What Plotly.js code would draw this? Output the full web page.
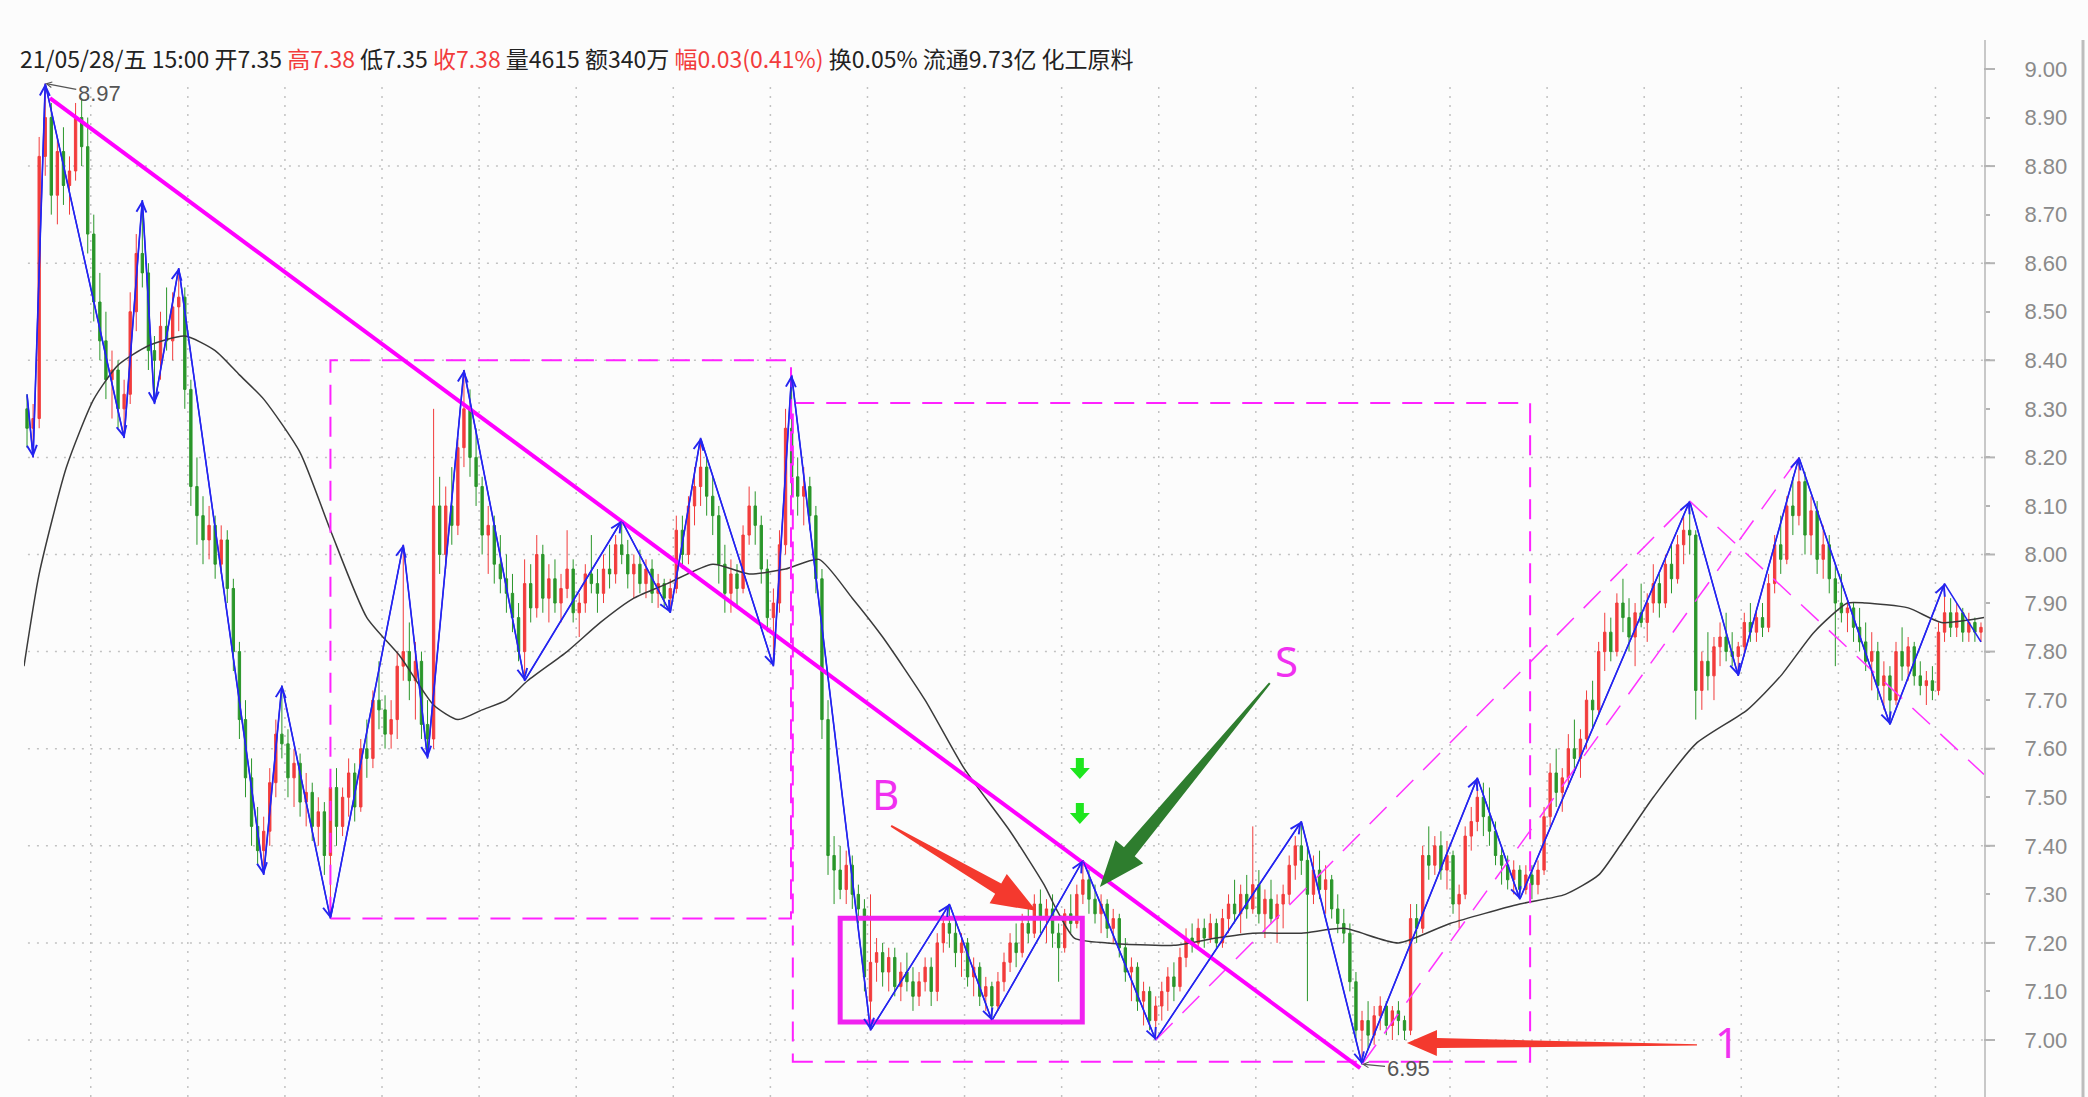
<!DOCTYPE html>
<html><head><meta charset="utf-8">
<script src="https://cdn.plot.ly/plotly-3.0.1.min.js"></script>
<style>html,body{margin:0;padding:0;background:#fcfcfc;} #chart{width:2088px;height:1097px;}</style>
</head><body><div id="chart"></div>
<script>
// ---------- candle data (15-min bars) ----------
const openP = [
8.30,8.26,8.28,8.82,8.90,8.74,8.83,8.76,8.79,8.90,
8.84,8.66,8.52,8.44,8.36,8.38,8.30,8.33,8.50,8.62,
8.58,8.42,8.40,8.47,8.44,8.51,8.53,8.34,8.14,8.08,
8.03,8.06,7.98,8.03,7.93,7.80,7.66,7.54,7.44,7.39,
7.43,7.53,7.63,7.61,7.54,7.57,7.49,7.51,7.44,7.47,
7.38,7.52,7.44,7.50,7.55,7.48,7.60,7.58,7.70,7.68,
7.63,7.66,7.77,7.80,7.74,7.78,7.65,7.62,8.10,8.00,
8.10,8.06,8.22,8.30,8.20,8.14,8.04,8.06,7.98,7.95,
7.92,7.87,7.80,7.94,7.89,8.00,7.91,7.95,7.90,7.93,
7.97,7.88,7.90,7.96,7.94,7.92,7.97,7.96,8.02,8.00,
7.96,7.98,7.94,7.97,7.92,7.94,7.91,7.93,8.05,8.00,
8.10,8.14,8.18,8.12,8.08,7.98,7.92,7.96,7.93,8.04,
8.10,8.06,7.97,7.87,7.90,8.02,8.26,8.16,8.12,8.14,
8.08,7.95,7.66,7.38,7.35,7.31,7.36,7.30,7.27,7.08,
7.16,7.18,7.14,7.17,7.11,7.14,7.12,7.09,7.12,7.15,
7.10,7.20,7.24,7.22,7.18,7.20,7.13,7.15,7.09,7.11,
7.07,7.12,7.16,7.20,7.18,7.24,7.22,7.28,7.25,7.27,
7.22,7.19,7.26,7.24,7.30,7.33,7.29,7.26,7.28,7.23,
7.25,7.19,7.14,7.15,7.08,7.10,7.04,7.07,7.10,7.13,
7.11,7.17,7.21,7.20,7.23,7.21,7.24,7.20,7.25,7.28,
7.26,7.30,7.27,7.32,7.26,7.29,7.25,7.28,7.30,7.36,
7.40,7.37,7.30,7.35,7.31,7.33,7.27,7.24,7.22,7.12,
7.02,7.04,7.01,7.05,7.07,7.03,7.06,7.04,7.02,7.25,
7.23,7.38,7.36,7.40,7.35,7.38,7.28,7.30,7.42,7.45,
7.50,7.46,7.43,7.38,7.36,7.33,7.35,7.31,7.34,7.32,
7.35,7.46,7.55,7.51,7.54,7.60,7.58,7.62,7.70,7.68,
7.80,7.84,7.80,7.90,7.87,7.83,7.88,7.86,7.90,7.94,
7.90,7.98,7.95,8.02,8.05,8.04,7.72,7.78,7.75,7.81,
7.83,7.80,7.79,7.81,7.86,7.84,7.87,7.85,7.94,8.02,
7.99,8.10,8.08,8.15,8.04,8.09,7.99,8.02,7.95,7.90,
7.88,7.89,7.85,7.82,7.78,7.80,7.73,7.75,7.70,7.80,
7.77,7.81,7.75,7.73,7.74,7.72,7.84,7.88,7.85,7.88,
7.84,7.86,7.84];
const highP = [
8.33,8.31,8.86,8.97,8.93,8.86,8.88,8.82,8.93,8.94,
8.90,8.70,8.58,8.50,8.42,8.40,8.36,8.54,8.66,8.73,
8.60,8.45,8.50,8.55,8.54,8.59,8.55,8.36,8.20,8.12,
8.10,8.08,8.06,8.05,7.95,7.82,7.70,7.58,7.48,7.46,
7.56,7.66,7.73,7.64,7.60,7.59,7.55,7.53,7.50,7.49,
7.55,7.56,7.52,7.58,7.57,7.62,7.66,7.72,7.78,7.71,
7.70,7.80,8.02,7.86,7.82,7.80,7.70,8.30,8.16,8.14,
8.18,8.24,8.38,8.34,8.26,8.16,8.10,8.08,8.04,8.00,
7.96,7.90,7.99,7.98,8.04,8.02,7.98,7.99,7.96,8.05,
7.99,7.92,7.98,8.04,7.97,8.00,8.02,8.04,8.07,8.03,
8.00,8.01,7.99,7.99,7.96,7.95,7.95,8.08,8.08,8.12,
8.18,8.24,8.20,8.16,8.10,8.02,7.99,7.98,8.06,8.14,
8.13,8.08,7.99,7.93,8.05,8.30,8.37,8.20,8.18,8.16,
8.10,7.97,7.70,7.42,7.40,7.39,7.38,7.32,7.29,7.30,
7.21,7.20,7.19,7.19,7.16,7.18,7.15,7.14,7.17,7.17,
7.22,7.26,7.28,7.25,7.22,7.21,7.17,7.16,7.13,7.12,
7.14,7.18,7.22,7.24,7.26,7.28,7.30,7.31,7.29,7.30,
7.24,7.27,7.30,7.32,7.37,7.35,7.32,7.30,7.29,7.27,
7.26,7.21,7.17,7.16,7.12,7.11,7.09,7.12,7.15,7.16,
7.19,7.23,7.24,7.25,7.25,7.26,7.25,7.27,7.30,7.33,
7.32,7.34,7.44,7.35,7.31,7.33,7.30,7.32,7.38,7.42,
7.45,7.40,7.38,7.39,7.36,7.34,7.30,7.27,7.24,7.14,
7.06,7.08,7.07,7.09,7.08,7.07,7.08,7.05,7.28,7.28,
7.40,7.44,7.42,7.43,7.41,7.39,7.32,7.44,7.48,7.54,
7.53,7.52,7.45,7.40,7.38,7.37,7.36,7.36,7.36,7.37,
7.48,7.57,7.60,7.56,7.63,7.66,7.64,7.72,7.74,7.82,
7.88,7.87,7.92,7.95,7.91,7.90,7.94,7.92,7.98,7.96,
8.00,8.02,8.04,8.08,8.11,8.05,7.80,7.84,7.83,7.86,
7.88,7.84,7.82,7.88,7.90,7.89,7.90,7.96,8.04,8.08,
8.12,8.16,8.20,8.17,8.12,8.11,8.06,8.04,7.98,7.96,
7.91,7.90,7.89,7.86,7.84,7.82,7.78,7.77,7.82,7.85,
7.83,7.82,7.78,7.76,7.77,7.86,7.94,7.91,7.90,7.89,
7.88,7.87,7.86];
const lowP = [
8.22,8.20,8.26,8.78,8.70,8.68,8.72,8.70,8.77,8.80,
8.62,8.48,8.40,8.32,8.28,8.26,8.24,8.31,8.46,8.55,
8.38,8.31,8.36,8.42,8.40,8.46,8.30,8.10,8.02,7.98,
7.99,7.95,7.96,7.90,7.76,7.62,7.50,7.40,7.36,7.34,
7.40,7.50,7.58,7.50,7.48,7.46,7.44,7.41,7.40,7.34,
7.25,7.40,7.42,7.46,7.45,7.47,7.54,7.56,7.64,7.60,
7.60,7.62,7.74,7.70,7.66,7.62,7.58,7.60,7.96,7.97,
8.02,8.04,8.18,8.16,8.10,8.00,7.96,7.94,7.92,7.88,
7.84,7.78,7.74,7.86,7.87,7.88,7.86,7.88,7.86,7.91,
7.86,7.83,7.88,7.92,7.88,7.90,7.93,7.94,7.98,7.93,
7.91,7.92,7.91,7.90,7.89,7.89,7.88,7.92,7.97,7.98,
8.06,8.10,8.08,8.04,7.94,7.88,7.88,7.89,7.92,8.02,
8.02,7.94,7.84,7.77,7.88,8.00,8.12,8.08,8.06,8.05,
7.92,7.62,7.34,7.28,7.29,7.28,7.27,7.24,7.10,7.02,
7.12,7.11,7.10,7.09,7.08,7.10,7.06,7.07,7.10,7.07,
7.08,7.18,7.19,7.15,7.13,7.11,7.09,7.07,7.06,7.04,
7.06,7.10,7.14,7.15,7.17,7.20,7.21,7.22,7.20,7.19,
7.12,7.18,7.22,7.23,7.28,7.26,7.24,7.22,7.21,7.20,
7.17,7.12,7.08,7.06,7.03,7.02,7.00,7.04,7.06,7.08,
7.10,7.15,7.18,7.19,7.19,7.20,7.19,7.19,7.22,7.24,
7.22,7.25,7.26,7.24,7.21,7.24,7.20,7.23,7.28,7.33,
7.34,7.08,7.28,7.29,7.26,7.25,7.22,7.20,7.10,7.00,
6.95,6.98,6.99,7.02,7.01,7.00,7.01,7.00,7.01,7.20,
7.22,7.33,7.34,7.33,7.31,7.26,7.23,7.29,7.39,7.43,
7.42,7.40,7.36,7.32,7.31,7.30,7.29,7.30,7.29,7.30,
7.34,7.44,7.48,7.47,7.52,7.55,7.54,7.60,7.64,7.67,
7.76,7.78,7.79,7.84,7.80,7.77,7.85,7.82,7.88,7.87,
7.89,7.92,7.94,7.98,8.00,7.66,7.68,7.72,7.70,7.77,
7.78,7.77,7.75,7.79,7.82,7.82,7.83,7.84,7.92,7.96,
7.98,8.04,8.06,8.00,8.00,7.96,7.95,7.92,7.77,7.86,
7.84,7.82,7.80,7.76,7.72,7.70,7.68,7.65,7.69,7.74,
7.74,7.73,7.71,7.69,7.70,7.71,7.82,7.83,7.83,7.82,
7.82,7.82,7.82];
const closeP = [
8.26,8.28,8.82,8.90,8.74,8.83,8.76,8.79,8.90,8.84,
8.66,8.52,8.44,8.36,8.38,8.30,8.33,8.50,8.62,8.58,
8.42,8.40,8.47,8.44,8.51,8.53,8.34,8.14,8.08,8.03,
8.06,7.98,8.03,7.93,7.80,7.66,7.54,7.44,7.39,7.43,
7.53,7.63,7.61,7.54,7.57,7.49,7.51,7.44,7.47,7.38,
7.52,7.44,7.50,7.55,7.48,7.60,7.58,7.70,7.68,7.63,
7.66,7.77,7.80,7.74,7.78,7.65,7.62,8.10,8.00,8.10,
8.06,8.22,8.30,8.20,8.14,8.04,8.06,7.98,7.95,7.92,
7.87,7.80,7.94,7.89,8.00,7.91,7.95,7.90,7.93,7.97,
7.88,7.90,7.96,7.94,7.92,7.97,7.96,8.02,8.00,7.96,
7.98,7.94,7.97,7.92,7.94,7.91,7.93,8.05,8.00,8.10,
8.14,8.18,8.12,8.08,7.98,7.92,7.96,7.93,8.04,8.10,
8.06,7.97,7.87,7.90,8.02,8.26,8.16,8.12,8.14,8.08,
7.95,7.66,7.38,7.35,7.31,7.36,7.30,7.27,7.13,7.16,
7.18,7.14,7.17,7.11,7.14,7.12,7.09,7.12,7.15,7.10,
7.20,7.24,7.22,7.18,7.20,7.13,7.15,7.09,7.11,7.07,
7.12,7.16,7.20,7.18,7.24,7.22,7.28,7.25,7.27,7.22,
7.19,7.26,7.24,7.30,7.33,7.29,7.26,7.28,7.23,7.25,
7.19,7.14,7.15,7.08,7.10,7.04,7.07,7.10,7.13,7.11,
7.17,7.21,7.20,7.23,7.21,7.24,7.20,7.25,7.28,7.26,
7.30,7.27,7.32,7.26,7.29,7.25,7.28,7.30,7.36,7.40,
7.37,7.30,7.35,7.31,7.33,7.27,7.24,7.22,7.12,7.02,
7.04,7.01,7.05,7.07,7.03,7.06,7.04,7.02,7.25,7.23,
7.38,7.36,7.40,7.35,7.38,7.28,7.30,7.42,7.45,7.50,
7.46,7.43,7.38,7.36,7.33,7.35,7.31,7.34,7.32,7.35,
7.46,7.55,7.51,7.54,7.60,7.58,7.62,7.70,7.68,7.80,
7.84,7.80,7.90,7.87,7.83,7.88,7.86,7.90,7.94,7.90,
7.98,7.95,8.02,8.05,8.04,7.72,7.78,7.75,7.81,7.83,
7.80,7.79,7.81,7.86,7.84,7.87,7.85,7.94,8.02,7.99,
8.10,8.08,8.15,8.04,8.09,7.99,8.02,7.95,7.90,7.88,
7.89,7.85,7.82,7.78,7.80,7.73,7.75,7.70,7.80,7.77,
7.81,7.75,7.73,7.74,7.72,7.84,7.88,7.85,7.88,7.84,
7.86,7.84,7.85];

// zigzag pivots (bar index, price)
const zzIdx = [0,1,3,16,19,21,25,39,42,50,62,66,72,82,98,106,111,123,126,139,152,159,174,186,210,220,239,246,274,282,292,307,316,322];
const zzVal = [8.33,8.20,8.97,8.24,8.73,8.31,8.59,7.34,7.73,7.25,8.02,7.58,8.38,7.74,8.07,7.88,8.24,7.77,8.37,7.02,7.28,7.04,7.37,7.00,7.45,6.95,7.54,7.29,8.11,7.75,8.20,7.65,7.94,7.82];

// long moving average (traced)
const maIdx = [-0.5,2,6.5,11,15,20,26,31,35,39,45,50,56,61.5,67,71,75,79,82.5,89,94.5,100,105.5,113,119,125,130.5,136,141,148,154.4,162,167.6,169.6,172.6,178,189,196,202,210,217,226,234.5,246,253.5,259,262.5,268,275,283.5,289,294.5,300,303,310,315.5,322.5];
const maVal = [7.77,7.96,8.18,8.32,8.39,8.43,8.45,8.42,8.37,8.32,8.21,8.05,7.87,7.79,7.69,7.66,7.68,7.70,7.74,7.80,7.86,7.91,7.94,7.98,7.96,7.97,7.99,7.91,7.83,7.70,7.56,7.43,7.32,7.27,7.21,7.20,7.195,7.21,7.22,7.22,7.23,7.20,7.24,7.28,7.30,7.34,7.40,7.50,7.61,7.68,7.75,7.84,7.90,7.90,7.89,7.86,7.87];

// drawing annotations (bar index, price)
const trendLine = {x:[3.78,219.7], y:[8.94,6.942]};
const dashRects = [{x0:50.0,x1:125.9,y0:7.25,y1:8.40},{x0:126.2,x1:247.7,y0:6.955,y1:8.312}];
const boxRect = {x0:134.0,x1:173.9,y0:7.037,y1:7.251};
const channelLines = [
  {x0:186,y0:7.00,x1:274,y1:8.11},
  {x0:220,y0:6.95,x1:292,y1:8.20},
  {x0:274,y0:8.11,x1:322.5,y1:7.547}
];
const bigArrows = [
  {tail:[142.4,7.441], tip:[166.3,7.266], color:'#f4392e', tailW:2, shaftW:12, headW:34, headLen:44},
  {tail:[204.8,7.735], tip:[176.8,7.315], color:'#2e7d2e', tailW:2, shaftW:14, headW:36, headLen:46},
  {tail:[275.2,6.990], tip:[227.4,6.994], color:'#f4392e', tailW:1.5, shaftW:10, headW:26, headLen:30}
];
const smallArrows = [[173.5,7.581],[173.5,7.488]];
const letters = [{t:'B',x:141.55,y:7.507},{t:'S',x:207.6,y:7.781},{t:'1',x:280.2,y:6.996}];
const header = "21/05/28/五 15:00 开7.35 <span style='color:#f23c3c'>高7.38</span> 低7.35 <span style='color:#f23c3c'>收7.38</span> 量4615 额340万 <span style='color:#f23c3c'>幅0.03(0.41%)</span> 换0.05% 流通9.73亿 化工原料";

// ---------- layout geometry ----------
const W=2088, H=1097, ML=24, MR=104, MT=40, MB=0;
const xRange=[-0.5, 322.5], yRange=[6.8826, 9.0597];
const plotW=W-ML-MR, plotH=H-MT-MB;
const pxX=plotW/(xRange[1]-xRange[0]), pxY=plotH/(yRange[1]-yRange[0]);
function toPx(x,y){return [ML+(x-xRange[0])*pxX, MT+(yRange[1]-y)*pxY];}
function toData(px,py){return [xRange[0]+(px-ML)/pxX, yRange[1]-(py-MT)/pxY];}
function polyPath(pts){return 'M'+pts.map(p=>{const d=toData(p[0],p[1]);return d[0].toFixed(3)+','+d[1].toFixed(4);}).join('L')+'Z';}
function taperArrow(a){
  const T=toPx(a.tail[0],a.tail[1]), P=toPx(a.tip[0],a.tip[1]);
  const dx=P[0]-T[0], dy=P[1]-T[1], L=Math.hypot(dx,dy);
  const ux=dx/L, uy=dy/L, nx=-uy, ny=ux;
  const B=[P[0]-ux*a.headLen, P[1]-uy*a.headLen];
  return polyPath([
    [T[0]+nx*a.tailW/2, T[1]+ny*a.tailW/2],
    [B[0]+nx*a.shaftW/2, B[1]+ny*a.shaftW/2],
    [B[0]+nx*a.headW/2, B[1]+ny*a.headW/2],
    P,
    [B[0]-nx*a.headW/2, B[1]-ny*a.headW/2],
    [B[0]-nx*a.shaftW/2, B[1]-ny*a.shaftW/2],
    [T[0]-nx*a.tailW/2, T[1]-ny*a.tailW/2]]);
}
function downArrow(x,y){
  const c=toPx(x,y);
  return polyPath([[-4,0],[4,0],[4,10],[10,10],[0,21],[-10,10],[-4,10]].map(p=>[c[0]+p[0],c[1]+p[1]]));
}

const idx = closeP.map((_,i)=>i);
const traces = [
  {type:'candlestick', x:idx, open:openP, high:highP, low:lowP, close:closeP,
   increasing:{line:{color:'#f23c3c',width:1}, fillcolor:'#f23c3c'},
   decreasing:{line:{color:'#2a962a',width:1}, fillcolor:'#2a962a'},
   whiskerwidth:0, hoverinfo:'skip', showlegend:false},
  {type:'scatter', mode:'lines', x:maIdx, y:maVal, line:{color:'#3a3a3a', width:1.5, shape:'spline', smoothing:0.6}, hoverinfo:'skip', showlegend:false},
  {type:'scatter', mode:'lines', x:zzIdx, y:zzVal, line:{color:'#2424f0', width:1.6}, hoverinfo:'skip', showlegend:false}
];

const shapes=[];
const dotLine={color:'#c2c2c2', width:1.5, dash:'2px,7px'};
for(let k=0;k<10;k++){const v=7+0.2*k; shapes.push({type:'line',xref:'paper',yref:'y',x0:0.002,x1:1,y0:v,y1:v,line:dotLine,layer:'below'});}
for(let j=11;j<=322;j+=16){shapes.push({type:'line',xref:'x',yref:'paper',x0:j-0.5,x1:j-0.5,y0:0,y1:(plotH-40)/plotH,line:dotLine,layer:'below'});}
for(let k=0;k<=10;k++){const v=7+0.2*k; shapes.push({type:'line',xref:'paper',yref:'y',x0:1,x1:1+11/plotW,y0:v,y1:v,line:{color:'#b4b4b4',width:2}});}
shapes.push({type:'line',xref:'paper',yref:'paper',x0:(2083-ML)/plotW,x1:(2083-ML)/plotW,y0:0,y1:1,line:{color:'#bdbdbd',width:3}});
dashRects.forEach(r=>shapes.push({type:'rect',xref:'x',yref:'y',x0:r.x0,x1:r.x1,y0:r.y0,y1:r.y1,line:{color:'#ff22ff',width:2,dash:'20px,12px'},fillcolor:'rgba(0,0,0,0)',layer:'above'}));
channelLines.forEach(c=>shapes.push({type:'line',xref:'x',yref:'y',x0:c.x0,y0:c.y0,x1:c.x1,y1:c.y1,line:{color:'#ff33ff',width:1.5,dash:'24px,14px'},layer:'above'}));
shapes.push({type:'line',xref:'x',yref:'y',x0:trendLine.x[0],y0:trendLine.y[0],x1:trendLine.x[1],y1:trendLine.y[1],line:{color:'#ff00ff',width:4},layer:'above'});
shapes.push({type:'rect',xref:'x',yref:'y',x0:boxRect.x0,x1:boxRect.x1,y0:boxRect.y0,y1:boxRect.y1,line:{color:'#f022f0',width:5},fillcolor:'rgba(0,0,0,0)',layer:'above'});
bigArrows.forEach(a=>shapes.push({type:'path',xref:'x',yref:'y',path:taperArrow(a),fillcolor:a.color,line:{width:0},layer:'above'}));
smallArrows.forEach(s=>shapes.push({type:'path',xref:'x',yref:'y',path:downArrow(s[0],s[1]),fillcolor:'#1ee61e',line:{width:0},layer:'above'}));

const annotations=[];
for(let k=1;k<zzIdx.length-1;k++){
  annotations.push({xref:'x',yref:'y',axref:'x',ayref:'y',x:zzIdx[k],y:zzVal[k],ax:zzIdx[k-1],ay:zzVal[k-1],text:'',showarrow:true,arrowhead:5,arrowsize:1.5,arrowwidth:1.3,arrowcolor:'#2424f0',standoff:0,startstandoff:0});
}
annotations.push({xref:'x',yref:'y',x:3,y:8.97,ax:54,ay:10,text:'8.97',showarrow:true,arrowhead:5,arrowsize:0.9,arrowwidth:1.2,arrowcolor:'#555',font:{family:'Liberation Sans, Arial, sans-serif',size:22,color:'#555'}});
annotations.push({xref:'x',yref:'y',x:220,y:6.95,ax:46,ay:4,text:'6.95',showarrow:true,arrowhead:5,arrowsize:0.9,arrowwidth:1.2,arrowcolor:'#555',font:{family:'Liberation Sans, Arial, sans-serif',size:22,color:'#555'}});
letters.forEach(l=>annotations.push({xref:'x',yref:'y',x:l.x,y:l.y,text:l.t,showarrow:false,font:{family:'Noto Sans, DejaVu Sans, sans-serif',size:42,color:'#f030f0'}}));
annotations.push({xref:'paper',yref:'paper',x:(18-ML)/plotW,y:1-(58-MT)/plotH,xanchor:'left',yanchor:'middle',text:header,showarrow:false,font:{family:'Noto Sans CJK SC, sans-serif',size:23,color:'#222'}});

const yTicks=[]; for(let k=0;k<=20;k++) yTicks.push(+(7+0.1*k).toFixed(1));
const layout={
  width:W, height:H, margin:{l:ML,r:MR,t:MT,b:MB,pad:0},
  paper_bgcolor:'#fcfcfc', plot_bgcolor:'#fcfcfc',
  showlegend:false, boxgap:0.45, dragmode:false, hovermode:false,
  xaxis:{range:xRange, visible:false, fixedrange:true, rangeslider:{visible:false}},
  yaxis:{side:'right', range:yRange, tickvals:yTicks, ticktext:yTicks.map(v=>v.toFixed(2)), ticks:'outside', ticklen:4, tickwidth:2, tickcolor:'#b4b4b4',
         showline:true, linecolor:'#c8c8c8', linewidth:2, showgrid:false, zeroline:false, fixedrange:true, ticklabelstandoff:30,
         tickfont:{family:'Liberation Sans, Arial, sans-serif', size:22, color:'#8a8a8a'}},
  shapes:shapes, annotations:annotations
};
Plotly.newPlot('chart', traces, layout, {staticPlot:true, displayModeBar:false});
</script></body></html>
